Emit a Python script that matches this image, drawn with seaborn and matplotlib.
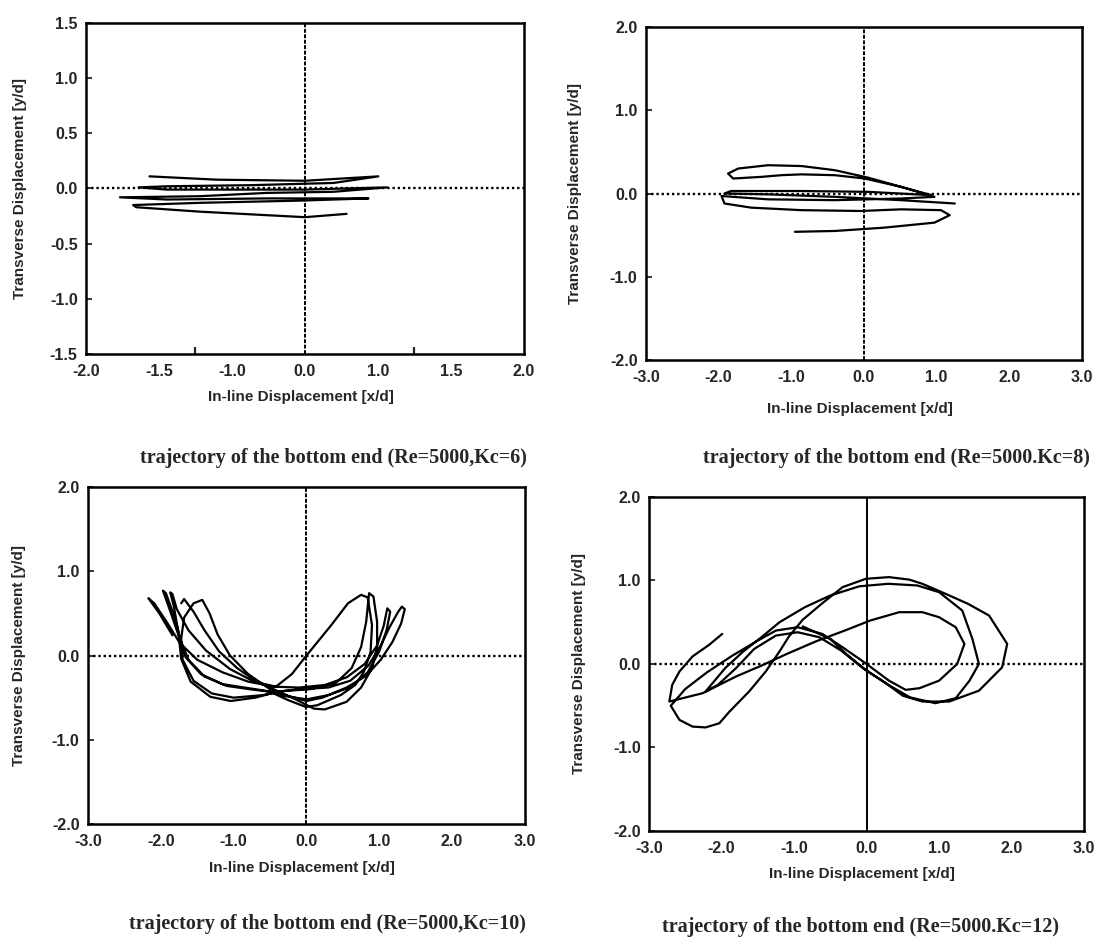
import numpy as np
import pandas as pd
import seaborn as sns
import matplotlib.pyplot as plt

# trajectory of the bottom end, four Kc cases

kc6_x = [-1.42, -0.81, 0.00, 0.67, 0.26, -0.50, -1.26, -1.52, -1.26, -0.50, 0.00, 0.75, 0.26,
         -0.35, -0.96, -1.69, -1.26, -0.35, 0.58, -0.05, -0.96, -1.57, -1.54, -0.96, 0.00, 0.38]
kc6_y = [0.11, 0.08, 0.07, 0.11, 0.05, 0.03, 0.02, 0.01, -0.01, -0.01, -0.01, 0.01, -0.03,
         -0.04, -0.07, -0.08, -0.10, -0.09, -0.09, -0.11, -0.13, -0.15, -0.17, -0.21, -0.26, -0.23]

kc8_x = [1.25, 0.51, -0.40, -1.32, -1.92, -1.83, -0.86, 0.06, 0.93, 0.51, 0.01, -0.40, -0.86,
         -1.14, -1.41, -1.80, -1.87, -1.73, -1.32, -0.86, -0.40, 0.06, 0.51, 0.97, 0.51, -0.40,
         -1.32, -1.96, -1.92, -1.55, -0.86, -0.04, 0.51, 1.06, 1.18, 0.97, 0.28, -0.40, -0.95]
kc8_y = [-0.12, -0.08, -0.04, -0.01, 0.00, 0.03, 0.03, 0.02, -0.02, 0.08, 0.18, 0.22, 0.23,
         0.22, 0.20, 0.18, 0.24, 0.30, 0.34, 0.33, 0.28, 0.19, 0.08, -0.04, -0.06, -0.08,
         -0.07, -0.03, -0.12, -0.17, -0.20, -0.21, -0.19, -0.20, -0.26, -0.35, -0.41, -0.45, -0.46]

kc10_x = [-1.84, -2.02, -2.17, -2.09, -1.92, -1.74, -1.50, -1.15, -0.80, -0.45, -0.10, 0.25, 0.55,
          0.80, 0.97, 1.06, 1.11, 1.15, 1.10, 1.00, 0.84, 0.62, 0.30, 0.00, -0.30, -0.55,
          -0.85, -1.15, -1.45, -1.66, -1.76, -1.82, -1.87, -1.84, -1.78, -1.62, -1.38, -1.05,
          -0.72, -0.42, -0.20, 0.00, 0.34, 0.57, 0.75, 0.84, 0.90, 0.88, 0.79, 0.67, 0.47,
          0.15, -0.01, -0.25, -0.50, -0.78, -1.10, -1.40, -1.62, -1.76, -1.88, -1.97, -1.93,
          -1.85, -1.76, -1.72, -1.59, -1.32, -1.04, -0.70, -0.40, -0.10, 0.30, 0.60, 0.85,
          1.02, 1.15, 1.26, 1.31, 1.35, 1.30, 1.18, 1.02, 0.82, 0.55, 0.22, 0.00, -0.25,
          -0.50, -0.80, -1.05, -1.22, -1.33, -1.43, -1.55, -1.68, -1.72, -1.70, -1.55, -1.30,
          -1.00, -0.60, -0.30, 0.05, 0.40, 0.62, 0.75, 0.82, 0.86, 0.92, 0.97, 0.97, 0.90,
          0.75, 0.55, 0.25, 0.10, -0.15, -0.40, -0.70, -0.95, -1.20, -1.40, -1.55, -1.68, -1.72]
kc10_y = [0.24, 0.50, 0.68, 0.62, 0.40, 0.15, -0.05, -0.20, -0.31, -0.37, -0.38, -0.35, -0.26,
          -0.10, 0.12, 0.35, 0.56, 0.52, 0.30, 0.05, -0.20, -0.37, -0.47, -0.52, -0.48, -0.42,
          -0.38, -0.34, -0.22, -0.02, 0.28, 0.58, 0.75, 0.73, 0.55, 0.30, 0.06, -0.16,
          -0.31, -0.37, -0.22, 0.00, 0.36, 0.62, 0.72, 0.69, 0.36, 0.04, -0.19, -0.35, -0.47,
          -0.59, -0.61, -0.53, -0.43, -0.40, -0.36, -0.25, -0.05, 0.25, 0.55, 0.77, 0.74,
          0.55, 0.30, -0.04, -0.31, -0.49, -0.54, -0.50, -0.43, -0.40, -0.38, -0.30, -0.12,
          0.12, 0.35, 0.52, 0.58, 0.55, 0.38, 0.16, -0.05, -0.24, -0.38, -0.50, -0.54, -0.48,
          -0.40, -0.22, 0.00, 0.25, 0.50, 0.66, 0.62, 0.45, 0.20, -0.05, -0.30, -0.45,
          -0.50, -0.47, -0.42, -0.40, -0.33, -0.15, 0.10, 0.40, 0.74, 0.70, 0.40, 0.10, -0.15,
          -0.38, -0.55, -0.64, -0.63, -0.52, -0.42, -0.30, -0.15, 0.05, 0.30, 0.52, 0.67, 0.62]

kc12_x = [-1.99, -2.17, -2.40, -2.58, -2.68, -2.72, -2.26, -1.80, -1.45, -1.10, -0.70, -0.30, 0.05,
          0.45, 0.77, 1.00, 1.23, 1.35, 1.25, 1.00, 0.73, 0.54, 0.31, 0.00, -0.33, -0.61,
          -0.95, -1.25, -1.50, -1.85, -2.20, -2.50, -2.70, -2.58, -2.40, -2.22, -2.03, -1.89,
          -1.62, -1.39, -1.20, -1.07, -0.88, -0.62, -0.33, -0.01, 0.31, 0.59, 0.77, 1.09,
          1.40, 1.69, 1.94, 1.87, 1.55, 1.14, 0.77, 0.50, 0.25, -0.05, -0.35, -0.65, -0.95,
          -1.25, -1.55, -1.80, -2.05, -2.22, -1.95, -1.70, -1.45, -1.20, -0.85, -0.50, -0.10,
          0.30, 0.70, 1.00, 1.32, 1.46, 1.55, 1.42, 1.23, 0.95, 0.60, 0.30, 0.00, -0.28,
          -0.50, -0.88]
kc12_y = [0.36, 0.23, 0.09, -0.09, -0.25, -0.45, -0.35, -0.15, -0.02, 0.12, 0.27, 0.40, 0.52,
          0.62, 0.62, 0.56, 0.44, 0.24, 0.00, -0.20, -0.29, -0.31, -0.20, 0.00, 0.20, 0.36,
          0.44, 0.40, 0.28, 0.10, -0.10, -0.30, -0.50, -0.67, -0.75, -0.76, -0.71, -0.57,
          -0.33, -0.09, 0.15, 0.33, 0.53, 0.72, 0.92, 1.02, 1.04, 1.01, 0.96, 0.84,
          0.72, 0.58, 0.24, -0.04, -0.32, -0.45, -0.45, -0.38, -0.22, -0.05, 0.16, 0.32, 0.38,
          0.34, 0.18, -0.05, -0.25, -0.33, -0.05, 0.15, 0.32, 0.50, 0.68, 0.82, 0.93,
          0.96, 0.94, 0.86, 0.64, 0.30, 0.00, -0.20, -0.41, -0.47, -0.40, -0.25, -0.08, 0.12,
          0.30, 0.45]

# tick labels as printed on the scan (first panel skips -0.5 / 0.5 on x)
small_xlabels = ["-2.0", "-1.5", "-1.0", "0.0", "1.0", "1.5", "2.0"]
small_ylabels = ["-1.5", "-1.0", "-0.5", "0.0", "0.5", "1.0", "1.5"]
big_xlabels = ["-3.0", "-2.0", "-1.0", "0.0", "1.0", "2.0", "3.0"]
big_ylabels = ["-2.0", "-1.0", "0.0", "1.0", "2.0"]

captions = ["trajectory of the bottom end (Re=5000,Kc=6)",
            "trajectory of the bottom end (Re=5000.Kc=8)",
            "trajectory of the bottom end (Re=5000,Kc=10)",
            "trajectory of the bottom end (Re=5000.Kc=12)"]

sns.set_style("white")
plt.rcParams['font.family'] = ['Liberation Sans', 'DejaVu Sans']

fig = plt.figure(figsize=(10.98, 9.38), dpi=100)

panels = [
    # rect, x, y, x range, y range, xlabels, ylabels, tick marks on x, ylabel x, xlabel y, caption pos, vline style
    ([0.0783, 0.6226, 0.3989, 0.3529], kc6_x, kc6_y, 2.0, 1.5, small_xlabels, small_ylabels,
     [-1.0, 1.0], -0.135, -0.109, (0.304, 0.512), (0, (2, 0.8))),
    ([0.5883, 0.6162, 0.3971, 0.3550], kc8_x, kc8_y, 3.0, 2.0, big_xlabels, big_ylabels,
     [-2.0, -1.0, 1.0, 2.0], -0.147, -0.126, (0.816, 0.512), (0, (2, 0.8))),
    ([0.0801, 0.1215, 0.3980, 0.3593], kc10_x, kc10_y, 3.0, 2.0, big_xlabels, big_ylabels,
     [-2.0, -1.0, 1.0, 2.0], -0.142, -0.110, (0.298, 0.015), (0, (2, 0.8))),
    ([0.5911, 0.1141, 0.3962, 0.3561], kc12_x, kc12_y, 3.0, 2.0, big_xlabels, big_ylabels,
     [-2.0, -1.0, 1.0, 2.0], -0.145, -0.108, (0.784, 0.012), '-'),
]

for (rect, xs, ys, xr, yr, xl, yl, marks, ylx, xly, cap, vls), text in zip(panels, captions):
    ax = fig.add_axes(rect)
    df = pd.DataFrame({'x': xs, 'y': ys})
    sns.lineplot(data=df, x='x', y='y', sort=False, estimator=None,
                 color='black', linewidth=1.6, ax=ax)
    ax.axhline(0, color='black', linestyle=(0, (1, 1.2)), linewidth=1.7, zorder=1)
    ax.axvline(0, color='black', linestyle=vls, linewidth=1.4, zorder=1)

    ax.set_xlim(-xr, xr)
    ax.set_ylim(-yr, yr)
    ax.set_xticks(np.linspace(-xr, xr, len(xl)))
    ax.set_yticks(np.linspace(-yr, yr, len(yl)))
    ax.set_xticklabels(xl, fontsize=11.5, fontweight='bold')
    ax.set_yticklabels(yl, fontsize=11.5, fontweight='bold')
    ax.set_xticks(marks, minor=True)
    ax.tick_params(axis='x', which='major', length=0, pad=7)
    ax.tick_params(axis='x', which='minor', direction='in', length=5, width=1.6, bottom=True)
    ax.tick_params(axis='y', which='major', direction='in', length=4, width=1.3, pad=6, left=True)

    for s in ax.spines.values():
        s.set_linewidth(1.8)
        s.set_color('black')

    ax.set_xlabel("In-line Displacement [x/d]", fontsize=11, fontweight='bold')
    ax.set_ylabel("Transverse Displacement [y/d]", fontsize=11, fontweight='bold')
    ax.xaxis.set_label_coords(0.49, xly)
    ax.yaxis.set_label_coords(ylx, 0.5)

    fig.text(cap[0], cap[1], text, ha='center', va='center',
             fontsize=14.5, fontweight='bold', family=['Liberation Serif', 'DejaVu Serif'])

fig.savefig('out.png', dpi=100)
